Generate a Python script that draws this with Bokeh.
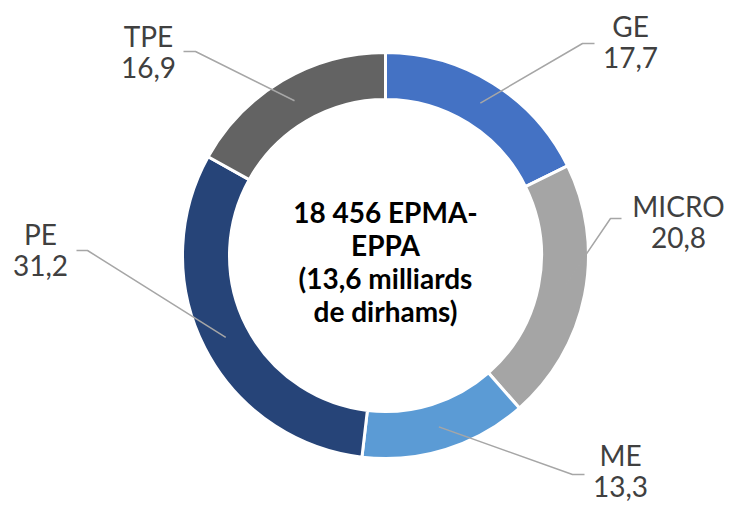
import math
from bokeh.plotting import figure
from bokeh.models import Range1d, ColumnDataSource
from bokeh.core.properties import value
from bokeh.embed import file_html
from bokeh.resources import INLINE

# ---- data ----
categories = ["GE", "MICRO", "ME", "PE", "TPE"]
values = [17.7, 20.8, 13.3, 31.2, 16.9]
value_labels = ["17,7", "20,8", "13,3", "31,2", "16,9"]
center_lines = ["18 456 EPMA-", "EPPA", "(13,6 milliards", "de dirhams)"]

# ---- styles / layout ----
colors = ["#4472C4", "#A5A5A5", "#5B9BD5", "#264478", "#636363"]
W, H = 728, 504
OX, OY = 2, 1
def X(px): return px - OX
def Y(py): return H + OY - py

cx, cy = X(387), Y(256)
r_out, r_in = 203, 156
r_mid = (r_out + r_in) / 2

# elbow (page px), horizontal end x, label center x, label first-line y
elbows = {
    "GE": ((584, 44), 596, 632, 26),
    "MICRO": ((612, 219), 623, 680, 206),
    "ME": ((574, 475), 586, 622, 455),
    "PE": ((89, 251), 78, 42, 234),
    "TPE": ((197, 52), 185, 150, 36),
}

total = sum(values)
starts, ends, mids = [], [], []
cum = 0.0
for v in values:
    a0 = math.pi / 2 - 2 * math.pi * cum / total
    cum += v
    a1 = math.pi / 2 - 2 * math.pi * cum / total
    starts.append(a0)
    ends.append(a1)
    mids.append((a0 + a1) / 2)

p = figure(width=W, height=H, output_backend="svg", toolbar_location=None,
           x_range=Range1d(0, W), y_range=Range1d(0, H), min_border=0)
p.axis.visible = False
p.grid.visible = False
p.outline_line_color = None
p.background_fill_color = "white"

src = ColumnDataSource(dict(start=starts, end=ends, color=colors))
p.annular_wedge(x=cx, y=cy, inner_radius=r_in, outer_radius=r_out,
                start_angle="start", end_angle="end", direction="clock",
                fill_color="color", line_color="white", line_width=3, source=src)

font = value("Lato")
for cat, lab, m in zip(categories, value_labels, mids):
    (ex, ey), hx, lx, ly = elbows[cat]
    sx = cx + r_mid * math.cos(m)
    sy = cy + r_mid * math.sin(m)
    p.line([sx, X(ex), X(hx)], [sy, Y(ey), Y(ey)], line_color="#A6A6A6", line_width=1.5)
    p.text(x=[X(lx), X(lx)], y=[Y(ly), Y(ly + 32)], text=[cat, lab],
           text_font=font, text_font_size="28px", text_color="#404040",
           text_align="center", text_baseline="middle")

p.text(x=[cx] * 4, y=[Y(212 + 33 * i) for i in range(4)], text=center_lines,
       text_font=font, text_font_size="28px", text_font_style="bold",
       text_color="#000000", text_align="center", text_baseline="middle")

open("out.html", "w").write(file_html(p, INLINE))
